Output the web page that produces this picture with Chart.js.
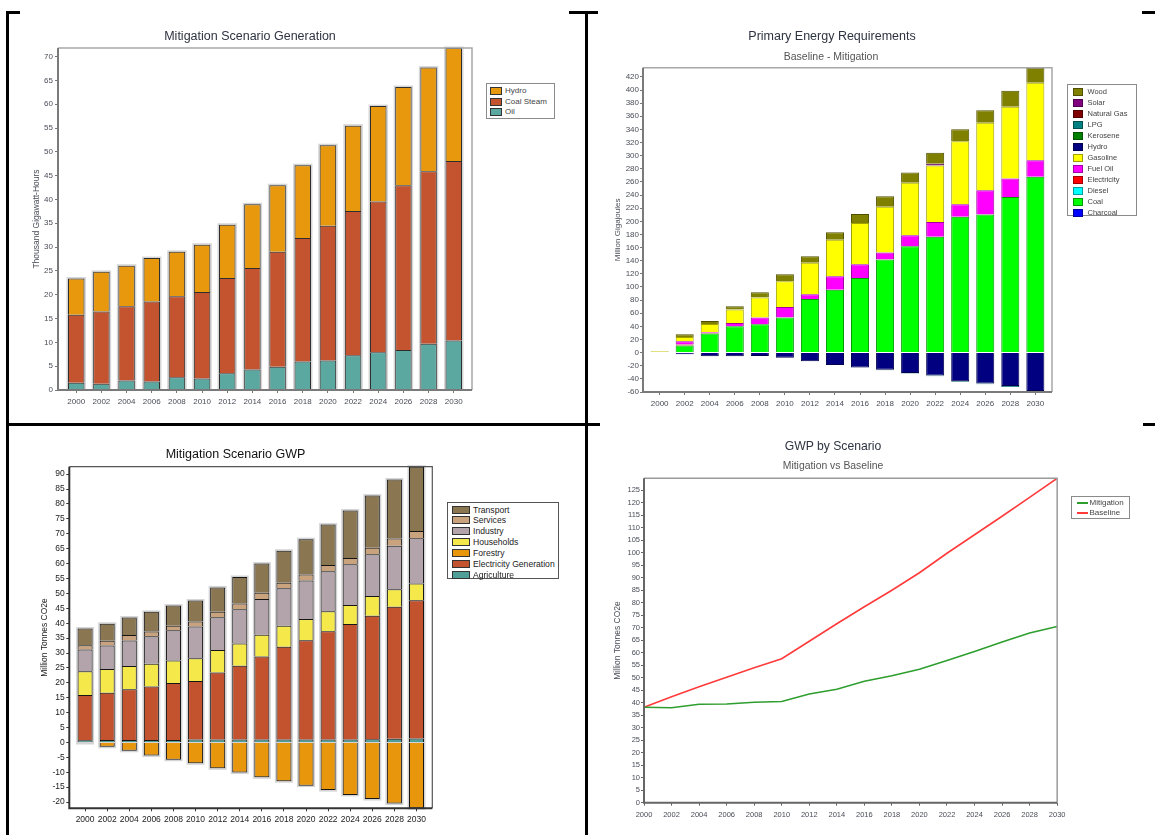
<!DOCTYPE html>
<html lang="en">
<head>
<meta charset="utf-8">
<title>Mitigation scenario results</title>
<script src="https://cdn.jsdelivr.net/npm/chart.js@4.4.1/dist/chart.umd.min.js"></script>
<style>
  html, body { margin: 0; padding: 0; background: #fff; }
  body { position: relative; width: 1155px; height: 835px; overflow: hidden;
         font-family: "Liberation Sans", Arial, sans-serif; }
  .panel { position: absolute; left: 0; top: 0; width: 1155px; height: 835px; }
  .soft { filter: blur(0.4px); }
  canvas { position: absolute; }
  .title { position: absolute; white-space: nowrap; transform: translate(-50%, -50%); line-height: 1; }
  .legend { position: absolute; box-sizing: border-box; background: #fff; border: 1px solid #888; }
  .legend span { position: absolute; white-space: nowrap; line-height: 1; transform: translateY(-50%); }
  .legend i { position: absolute; box-sizing: border-box; }
  .rule { position: absolute; background: #000; }
</style>
</head>
<body>
<div class="panel soft" id="panelA"></div>
<div class="panel soft" id="panelB"></div>
<div class="panel" id="panelC"></div>
<div class="panel soft" id="panelD"></div>
<div class="panel" id="rules"></div>
<script>
const FONT = '"Liberation Sans", Arial, sans-serif';

const years = [2000, 2002, 2004, 2006, 2008, 2010, 2012, 2014, 2016, 2018, 2020, 2022, 2024, 2026, 2028, 2030];

// Mitigation Scenario Generation, thousand gigawatt-hours
const genOil   = [1.5, 1.3, 2.0, 1.8, 2.7, 2.4, 3.5, 4.3, 4.9, 6.0, 6.2, 7.3, 7.9, 8.4, 9.7, 10.4];
const genCoal  = [14.3, 15.2, 15.6, 16.8, 17.0, 18.2, 20.0, 21.3, 24.1, 25.9, 28.3, 30.3, 31.7, 34.6, 36.2, 37.7];
const genHydro = [7.6, 8.3, 8.5, 9.1, 9.3, 9.9, 11.2, 13.4, 14.0, 15.3, 16.9, 17.9, 20.0, 20.6, 21.8, 23.7];
const genTicks = [0, 5, 10, 15, 20, 25, 30, 35, 40, 45, 50, 55, 60, 65, 70];

// Primary energy requirements, baseline minus mitigation, million gigajoules
const peCharcoal    = [0, 0, 0, 0, 0, 0, 0, 0, 0, 0, 0, 0, 0, 0, 0, 0];
const peCoal        = [0, 11, 29, 40.1, 43.1, 53.3, 81.7, 95.9, 113.7, 141.7, 162, 176.3, 206.8, 210.3, 237.2, 267.7];
const peDiesel      = [0, 0, 0, 0, 0, 0, 0, 0, 0, 0, 0, 0, 0, 0, 0, 0];
const peElectricity = [0, 1.2, 1, 0, 0, 0, 0, 0, 0, 0, 0, 0, 0, 0, 0, 0];
const peFuelOil     = [0, 5.1, 1, 5.1, 10.2, 16.2, 7.1, 20.3, 20.8, 10.7, 16.8, 22.8, 19.3, 37.1, 28, 25.4];
const peGasoline    = [2.2, 6.6, 12.7, 20.3, 30.5, 39.1, 48.2, 55.8, 63, 69.6, 79.8, 85.9, 96, 102.6, 109.2, 117.9];
const peHydro       = [0, -2.5, -5.5, -5.5, -5, -8, -13, -19, -22.5, -26.1, -31, -35, -43.5, -47, -51, -58.5];
const peKerosene    = [0, 0, 0, 0, 0, 0, 0, 0, 0, 0, 0, 0, 0, 0, 0, 0];
const peLPG         = [0, 0, 0, 0, 0, 0, 0, 0, -0.5, -0.8, -1, -1, -1.2, -1.3, -1.3, -1.5];
const peNaturalGas  = [0, 0, 0, 0, 0, 0, 0, 0, 0, 0, 0, 0, 0, 0, 0, 0];
const peSolar       = [0, 0, 0, 0, 0, 0, 0, 0, 0, 0, 0, 2.5, 0, 0, 0, 0];
const peWood        = [0, 4, 4.5, 5.1, 8.1, 10.7, 9.7, 11.2, 13.7, 16.3, 15.7, 16.8, 18.3, 19.3, 24.4, 23];
const peTicks = [-60, -40, -20, 0, 20, 40, 60, 80, 100, 120, 140, 160, 180, 200, 220, 240, 260, 280, 300, 320, 340, 360, 380, 400, 420];

// Mitigation Scenario GWP by sector, million tonnes CO2e
const gwpAgriculture = [0.7, 0.8, 0.8, 0.8, 0.8, 1.0, 1.0, 1.0, 1.0, 1.0, 1.0, 1.0, 1.0, 1.1, 1.2, 1.3];
const gwpElectricity = [15.2, 15.9, 17.0, 18.0, 19.1, 19.6, 22.5, 24.7, 27.8, 31.1, 33.3, 36.3, 38.7, 41.4, 44.3, 46.4];
const gwpForestry    = [-0.2, -1.45, -2.8, -4.4, -5.8, -7.0, -8.7, -10.1, -11.7, -13.0, -14.5, -16.0, -17.6, -19.0, -20.5, -22.1];
const gwpHouseholds  = [8.0, 7.9, 7.8, 7.6, 7.6, 7.6, 7.5, 7.5, 7.3, 7.0, 7.1, 6.7, 6.4, 6.6, 5.9, 5.6];
const gwpIndustry    = [7.3, 7.9, 8.6, 9.2, 10.1, 10.7, 11.0, 11.5, 12.0, 12.6, 12.9, 13.4, 13.7, 14.0, 14.6, 15.2];
const gwpServices    = [1.4, 1.6, 1.8, 1.6, 1.5, 1.7, 1.8, 1.9, 2.1, 1.9, 2.0, 2.1, 2.1, 2.2, 2.4, 2.4];
const gwpTransport   = [5.6, 5.7, 5.9, 6.6, 6.8, 7.0, 8.2, 8.9, 9.8, 10.7, 11.9, 13.6, 15.9, 17.5, 19.8, 21.6];
const gwpTicks = [-20, -15, -10, -5, 0, 5, 10, 15, 20, 25, 30, 35, 40, 45, 50, 55, 60, 65, 70, 75, 80, 85, 90];

// GWP by scenario, million tonnes CO2e
const scenMitigation = [38.2, 38.0, 39.4, 39.5, 40.2, 40.5, 43.5, 45.4, 48.6, 50.8, 53.4, 56.9, 60.5, 64.3, 67.9, 70.5];
const scenBaseline   = [38.2, 42.4, 46.4, 50.2, 54.0, 57.6, 64.6, 71.6, 78.4, 85.0, 92.0, 99.8, 107.2, 114.6, 122.2, 129.8];
const scenTicks = [0, 5, 10, 15, 20, 25, 30, 35, 40, 45, 50, 55, 60, 65, 70, 75, 80, 85, 90, 95, 100, 105, 110, 115, 120, 125];

Chart.defaults.font.family = FONT;

// ---------- helpers ----------
function stackRange(series) {
  let lo = 0, hi = 0;
  years.forEach((_, i) => {
    let pos = 0, neg = 0;
    series.forEach(s => { if (s[i] >= 0) pos += s[i]; else neg += s[i]; });
    hi = Math.max(hi, pos); lo = Math.min(lo, neg);
  });
  return { lo, hi };
}

// Canvas box and plot rectangle (page pixels) -> padding and fixed axis sizes
function frameLayout(box, plot) {
  return {
    padding: { left: 0, top: plot.top - box.top, right: box.left + box.width - plot.right, bottom: 0 },
    yWidth: plot.left - box.left,
    xHeight: box.top + box.height - plot.bottom
  };
}

function addCanvas(parent, box) {
  const c = document.createElement('canvas');
  c.width = box.width; c.height = box.height;
  Object.assign(c.style, { left: box.left + 'px', top: box.top + 'px', width: box.width + 'px', height: box.height + 'px' });
  parent.appendChild(c);
  return c;
}

function addText(parent, text, x, y, size, color, weight) {
  const d = document.createElement('div');
  d.className = 'title';
  d.textContent = text;
  Object.assign(d.style, { left: x + 'px', top: y + 'px', fontSize: size + 'px', color, fontWeight: weight || 'normal' });
  parent.appendChild(d);
}

function addLegend(parent, items, o) {
  const box = document.createElement('div');
  box.className = 'legend';
  Object.assign(box.style, { left: o.left + 'px', top: o.top + 'px', width: o.width + 'px', height: o.height + 'px', borderColor: o.border });
  items.forEach((it, i) => {
    const cy = o.firstRow + i * o.rowStep;
    const h = o.line ? 2 : o.swH;
    const sw = document.createElement('i');
    Object.assign(sw.style, {
      left: o.swX + 'px', top: (cy - h / 2) + 'px', width: o.swW + 'px', height: h + 'px',
      background: it.color, border: o.line ? 'none' : '1px solid ' + (it.edge || '#333')
    });
    const tx = document.createElement('span');
    tx.textContent = it.label;
    Object.assign(tx.style, { left: o.textX + 'px', top: cy + 'px', fontSize: o.size + 'px', color: o.color });
    box.append(sw, tx);
  });
  parent.appendChild(box);
}

function valueAxis(o) {
  return {
    type: 'linear', position: 'left', stacked: !!o.stacked,
    min: o.min, max: o.max, bounds: 'data',
    afterBuildTicks: s => { s.ticks = o.ticks.map(v => ({ value: v })); },
    afterFit: s => { s.width = o.width; },
    grid: { display: true, drawOnChartArea: false, drawTicks: true, tickLength: o.tickLength, color: o.tickColor, lineWidth: 1 },
    border: { display: false },
    ticks: { autoSkip: false, padding: o.pad, color: o.textColor, font: { family: FONT, size: o.size }, callback: v => String(v) },
    title: {
      display: true, text: o.title, color: o.titleColor || o.textColor,
      font: { family: FONT, size: o.titleSize, lineHeight: 1 },
      padding: { top: o.titleOffset - o.titleSize / 2, bottom: 0 }
    }
  };
}

function yearAxis(o) {
  return {
    type: 'linear', position: 'bottom', stacked: true, offset: false,
    min: years[0] - o.edge, max: years[years.length - 1] + o.edge, bounds: 'data',
    afterBuildTicks: s => { s.ticks = years.map(v => ({ value: v })); },
    afterFit: s => { s.height = o.height; },
    grid: { display: true, offset: false, drawOnChartArea: false, drawTicks: true, tickLength: o.tickLength, color: o.tickColor },
    border: { display: false },
    ticks: { autoSkip: false, maxRotation: 0, minRotation: 0, padding: o.pad, color: o.textColor, font: { family: FONT, size: o.size }, callback: v => String(v) }
  };
}

// Plot rectangle: light edge on top/right, heavier axis lines on left/bottom
function plotFrame(o) {
  return {
    id: 'plotFrame',
    afterDatasetsDraw(chart) {
      const { left, top, right, bottom } = chart.chartArea;
      const ctx = chart.ctx;
      ctx.save();
      ctx.lineWidth = o.edgeWidth; ctx.strokeStyle = o.edge;
      ctx.beginPath(); ctx.moveTo(left, top); ctx.lineTo(right, top); ctx.lineTo(right, bottom); ctx.stroke();
      ctx.lineWidth = o.axisWidth; ctx.strokeStyle = o.axis;
      ctx.beginPath(); ctx.moveTo(left, top); ctx.lineTo(left, bottom); ctx.lineTo(right, bottom); ctx.stroke();
      ctx.restore();
    }
  };
}

// Soft grey outline behind each full stacked column
function barHalo(color, spread) {
  return {
    id: 'barHalo',
    beforeDatasetsDraw(chart) {
      const metas = chart.getSortedVisibleDatasetMetas();
      const ctx = chart.ctx;
      ctx.save();
      ctx.fillStyle = color;
      for (let i = 0; i < chart.data.labels.length; i++) {
        let t = Infinity, b = -Infinity, x = 0, w = 0;
        metas.forEach(m => {
          const el = m.data[i];
          if (!el) return;
          const p = el.getProps(['x', 'y', 'base', 'width'], true);
          t = Math.min(t, p.y, p.base); b = Math.max(b, p.y, p.base); x = p.x; w = p.width;
        });
        if (b - t > 0.5) ctx.fillRect(x - w / 2 - spread, t - spread, w + 2 * spread, b - t + 2 * spread);
      }
      ctx.restore();
    }
  };
}

const baseOptions = (padding) => ({
  responsive: false, animation: false, devicePixelRatio: 1,
  layout: { padding },
  plugins: { legend: { display: false }, tooltip: { enabled: false }, title: { display: false } }
});

// ---------- Mitigation Scenario Generation ----------
(function () {
  const panel = document.getElementById('panelA');
  const box = { left: 10, top: 20, width: 472, height: 398 };
  const plot = { left: 58, top: 48, right: 472, bottom: 390 };
  const g = frameLayout(box, plot);
  const series = [
    { label: 'Oil', data: genOil, color: '#5aa8a0' },
    { label: 'Coal Steam', data: genCoal, color: '#c4532f' },
    { label: 'Hydro', data: genHydro, color: '#e8980d' }
  ];
  const r = stackRange(series.map(s => s.data));
  const opts = baseOptions(g.padding);
  opts.scales = {
    x: yearAxis({ edge: 1.45, height: g.xHeight, tickLength: 3, pad: 4, tickColor: '#777', textColor: '#4a4d58', size: 8 }),
    y: valueAxis({ stacked: true, min: 0, max: r.hi, ticks: genTicks, width: g.yWidth, tickLength: 3, pad: 2,
                   tickColor: '#777', textColor: '#4a4d58', size: 8, title: 'Thousand Gigawatt-Hours',
                   titleSize: 8.5, titleOffset: 36.7 - box.left })
  };
  new Chart(addCanvas(panel, box), {
    type: 'bar',
    data: { labels: years, datasets: series.map(s => ({
      label: s.label, data: s.data, backgroundColor: s.color, borderColor: '#2e2e2e', borderWidth: 1,
      categoryPercentage: 1, barPercentage: 0.655 })) },
    options: opts,
    plugins: [barHalo('rgba(0,0,0,0.16)', 1.5), plotFrame({ edge: '#a8a8a8', edgeWidth: 1.5, axis: '#7a7a7a', axisWidth: 2 })]
  });
  addText(panel, 'Mitigation Scenario Generation', 250, 36, 12.5, '#2d3340');
  addLegend(panel, series.slice().reverse(), {
    left: 486, top: 83, width: 69, height: 36, border: '#8a8a8a',
    firstRow: 7, rowStep: 10.7, swX: 3, swW: 12, swH: 8, textX: 18, size: 8, color: '#444'
  });
})();

// ---------- Primary Energy Requirements ----------
(function () {
  const panel = document.getElementById('panelB');
  const box = { left: 595, top: 50, width: 470, height: 368 };
  const plot = { left: 643, top: 67.7, right: 1052, bottom: 392 };
  const g = frameLayout(box, plot);
  const series = [
    { label: 'Charcoal', data: peCharcoal, color: '#0000ff', edge: '#0000a0' },
    { label: 'Coal', data: peCoal, color: '#00ff00', edge: '#009a00' },
    { label: 'Diesel', data: peDiesel, color: '#00ffff', edge: '#00a0a0' },
    { label: 'Electricity', data: peElectricity, color: '#ff0000', edge: '#a00000' },
    { label: 'Fuel Oil', data: peFuelOil, color: '#ff00ff', edge: '#a000a0' },
    { label: 'Gasoline', data: peGasoline, color: '#ffff00', edge: '#a0a000' },
    { label: 'Hydro', data: peHydro, color: '#000080', edge: '#000050' },
    { label: 'Kerosene', data: peKerosene, color: '#008000', edge: '#005000' },
    { label: 'LPG', data: peLPG, color: '#008080', edge: '#005050' },
    { label: 'Natural Gas', data: peNaturalGas, color: '#800000', edge: '#500000' },
    { label: 'Solar', data: peSolar, color: '#800080', edge: '#500050' },
    { label: 'Wood', data: peWood, color: '#808000', edge: '#505000' }
  ];
  const r = stackRange(series.map(s => s.data));
  const opts = baseOptions(g.padding);
  opts.scales = {
    x: yearAxis({ edge: 1.33, height: g.xHeight, tickLength: 3, pad: 3.5, tickColor: '#777', textColor: '#4a4d58', size: 8 }),
    y: valueAxis({ stacked: true, min: r.lo, max: r.hi, ticks: peTicks, width: g.yWidth, tickLength: 3, pad: 1,
                   tickColor: '#777', textColor: '#4a4d58', size: 8, title: 'Million Gigajoules',
                   titleSize: 8, titleOffset: 617.5 - box.left })
  };
  new Chart(addCanvas(panel, box), {
    type: 'bar',
    data: { labels: years, datasets: series.map(s => ({
      label: s.label, data: s.data, backgroundColor: s.color, borderColor: s.edge, borderWidth: 1,
      categoryPercentage: 1, barPercentage: 0.72 })) },
    options: opts,
    plugins: [plotFrame({ edge: '#a8a8a8', edgeWidth: 1.5, axis: '#7a7a7a', axisWidth: 2 })]
  });
  addText(panel, 'Primary Energy Requirements', 832, 36, 12.5, '#2d3340');
  addText(panel, 'Baseline - Mitigation', 831, 56, 10.5, '#555');
  addLegend(panel, series.slice().reverse(), {
    left: 1067, top: 84, width: 70, height: 132, border: '#8a8a8a',
    firstRow: 6.5, rowStep: 11, swX: 4.5, swW: 10.5, swH: 8, textX: 19.5, size: 7.5, color: '#444'
  });
})();

// ---------- Mitigation Scenario GWP ----------
(function () {
  const panel = document.getElementById('panelC');
  const box = { left: 12, top: 450, width: 432, height: 382 };
  const plot = { left: 69.3, top: 466.7, right: 432.3, bottom: 808.3 };
  const g = frameLayout(box, plot);
  const series = [
    { label: 'Agriculture', data: gwpAgriculture, color: '#4f9e98' },
    { label: 'Electricity Generation', data: gwpElectricity, color: '#c3532f' },
    { label: 'Forestry', data: gwpForestry, color: '#e8960c' },
    { label: 'Households', data: gwpHouseholds, color: '#f5e84a' },
    { label: 'Industry', data: gwpIndustry, color: '#b2a4aa' },
    { label: 'Services', data: gwpServices, color: '#c9a27e' },
    { label: 'Transport', data: gwpTransport, color: '#8a7651' }
  ];
  const r = stackRange(series.map(s => s.data));
  const opts = baseOptions(g.padding);
  opts.scales = {
    x: yearAxis({ edge: 1.43, height: g.xHeight, tickLength: 3, pad: 3.4, tickColor: '#333', textColor: '#222', size: 8.5 }),
    y: valueAxis({ stacked: true, min: r.lo, max: r.hi, ticks: gwpTicks, width: g.yWidth, tickLength: 3, pad: 1.5,
                   tickColor: '#333', textColor: '#222', size: 8.5, title: 'Million Tonnes CO2e',
                   titleSize: 8.5, titleOffset: 45 - box.left })
  };
  new Chart(addCanvas(panel, box), {
    type: 'bar',
    data: { labels: years, datasets: series.map(s => ({
      label: s.label, data: s.data, backgroundColor: s.color, borderColor: '#151515', borderWidth: 1,
      categoryPercentage: 1, barPercentage: 0.68 })) },
    options: opts,
    plugins: [barHalo('rgba(0,0,0,0.17)', 1.5), plotFrame({ edge: '#555', edgeWidth: 1.2, axis: '#333', axisWidth: 2 })]
  });
  addText(panel, 'Mitigation Scenario GWP', 235.5, 454, 12.5, '#111');
  addLegend(panel, series.slice().reverse(), {
    left: 447, top: 502, width: 112, height: 77, border: '#555',
    firstRow: 6.5, rowStep: 10.9, swX: 4, swW: 18, swH: 8, textX: 25, size: 8.6, color: '#222'
  });
})();

// ---------- GWP by Scenario ----------
(function () {
  const panel = document.getElementById('panelD');
  const box = { left: 595, top: 462, width: 475, height: 368 };
  const plot = { left: 644, top: 478.3, right: 1058.3, bottom: 802.7 };
  const g = frameLayout(box, plot);
  const series = [
    { label: 'Mitigation', data: scenMitigation, color: '#2e9e2e' },
    { label: 'Baseline', data: scenBaseline, color: '#ff3b3b' }
  ];
  const hi = Math.max(...scenMitigation, ...scenBaseline);
  const opts = baseOptions(g.padding);
  opts.scales = {
    x: {
      type: 'category', position: 'bottom', offset: false,
      afterFit: s => { s.height = g.xHeight; },
      grid: { display: true, offset: false, drawOnChartArea: false, drawTicks: true, tickLength: 3, color: '#666' },
      border: { display: false },
      ticks: { autoSkip: false, maxRotation: 0, minRotation: 0, padding: 4.5, color: '#4a4d58', font: { family: FONT, size: 7.5 } }
    },
    y: valueAxis({ min: 0, max: hi, ticks: scenTicks, width: g.yWidth, tickLength: 3, pad: 1,
                   tickColor: '#666', textColor: '#4a4d58', size: 7.5, title: 'Million Tonnes CO2e',
                   titleSize: 8.5, titleOffset: 618 - box.left })
  };
  new Chart(addCanvas(panel, box), {
    type: 'line',
    data: { labels: years.map(String), datasets: series.map(s => ({
      label: s.label, data: s.data, borderColor: s.color, backgroundColor: s.color,
      borderWidth: 1.6, pointRadius: 0, tension: 0, fill: false })) },
    options: opts,
    plugins: [plotFrame({ edge: '#9a9a9a', edgeWidth: 1.5, axis: '#666', axisWidth: 2 })]
  });
  addText(panel, 'GWP by Scenario', 833, 446, 12.2, '#2d3340');
  addText(panel, 'Mitigation vs Baseline', 833, 466, 10.4, '#555');
  addLegend(panel, series, {
    left: 1071, top: 496, width: 59, height: 23, border: '#8a8a8a', line: true,
    firstRow: 5.5, rowStep: 10.7, swX: 4.5, swW: 11, textX: 17.5, size: 8, color: '#444'
  });
})();

// ---------- page rules ----------
(function () {
  const rules = document.getElementById('rules');
  [
    [6, 11, 3, 824],   // left edge
    [6, 11, 14, 3],    // top-left corner
    [585, 11, 3, 824], // centre divider
    [569, 11, 29, 3],  // top-centre mark
    [6, 423, 594, 3],  // middle divider
    [1142, 11, 13, 3], // top-right mark
    [1143, 423, 12, 3] // right middle mark
  ].forEach(([l, t, w, h]) => {
    const d = document.createElement('div');
    d.className = 'rule';
    Object.assign(d.style, { left: l + 'px', top: t + 'px', width: w + 'px', height: h + 'px' });
    rules.appendChild(d);
  });
})();
</script>
</body>
</html>
